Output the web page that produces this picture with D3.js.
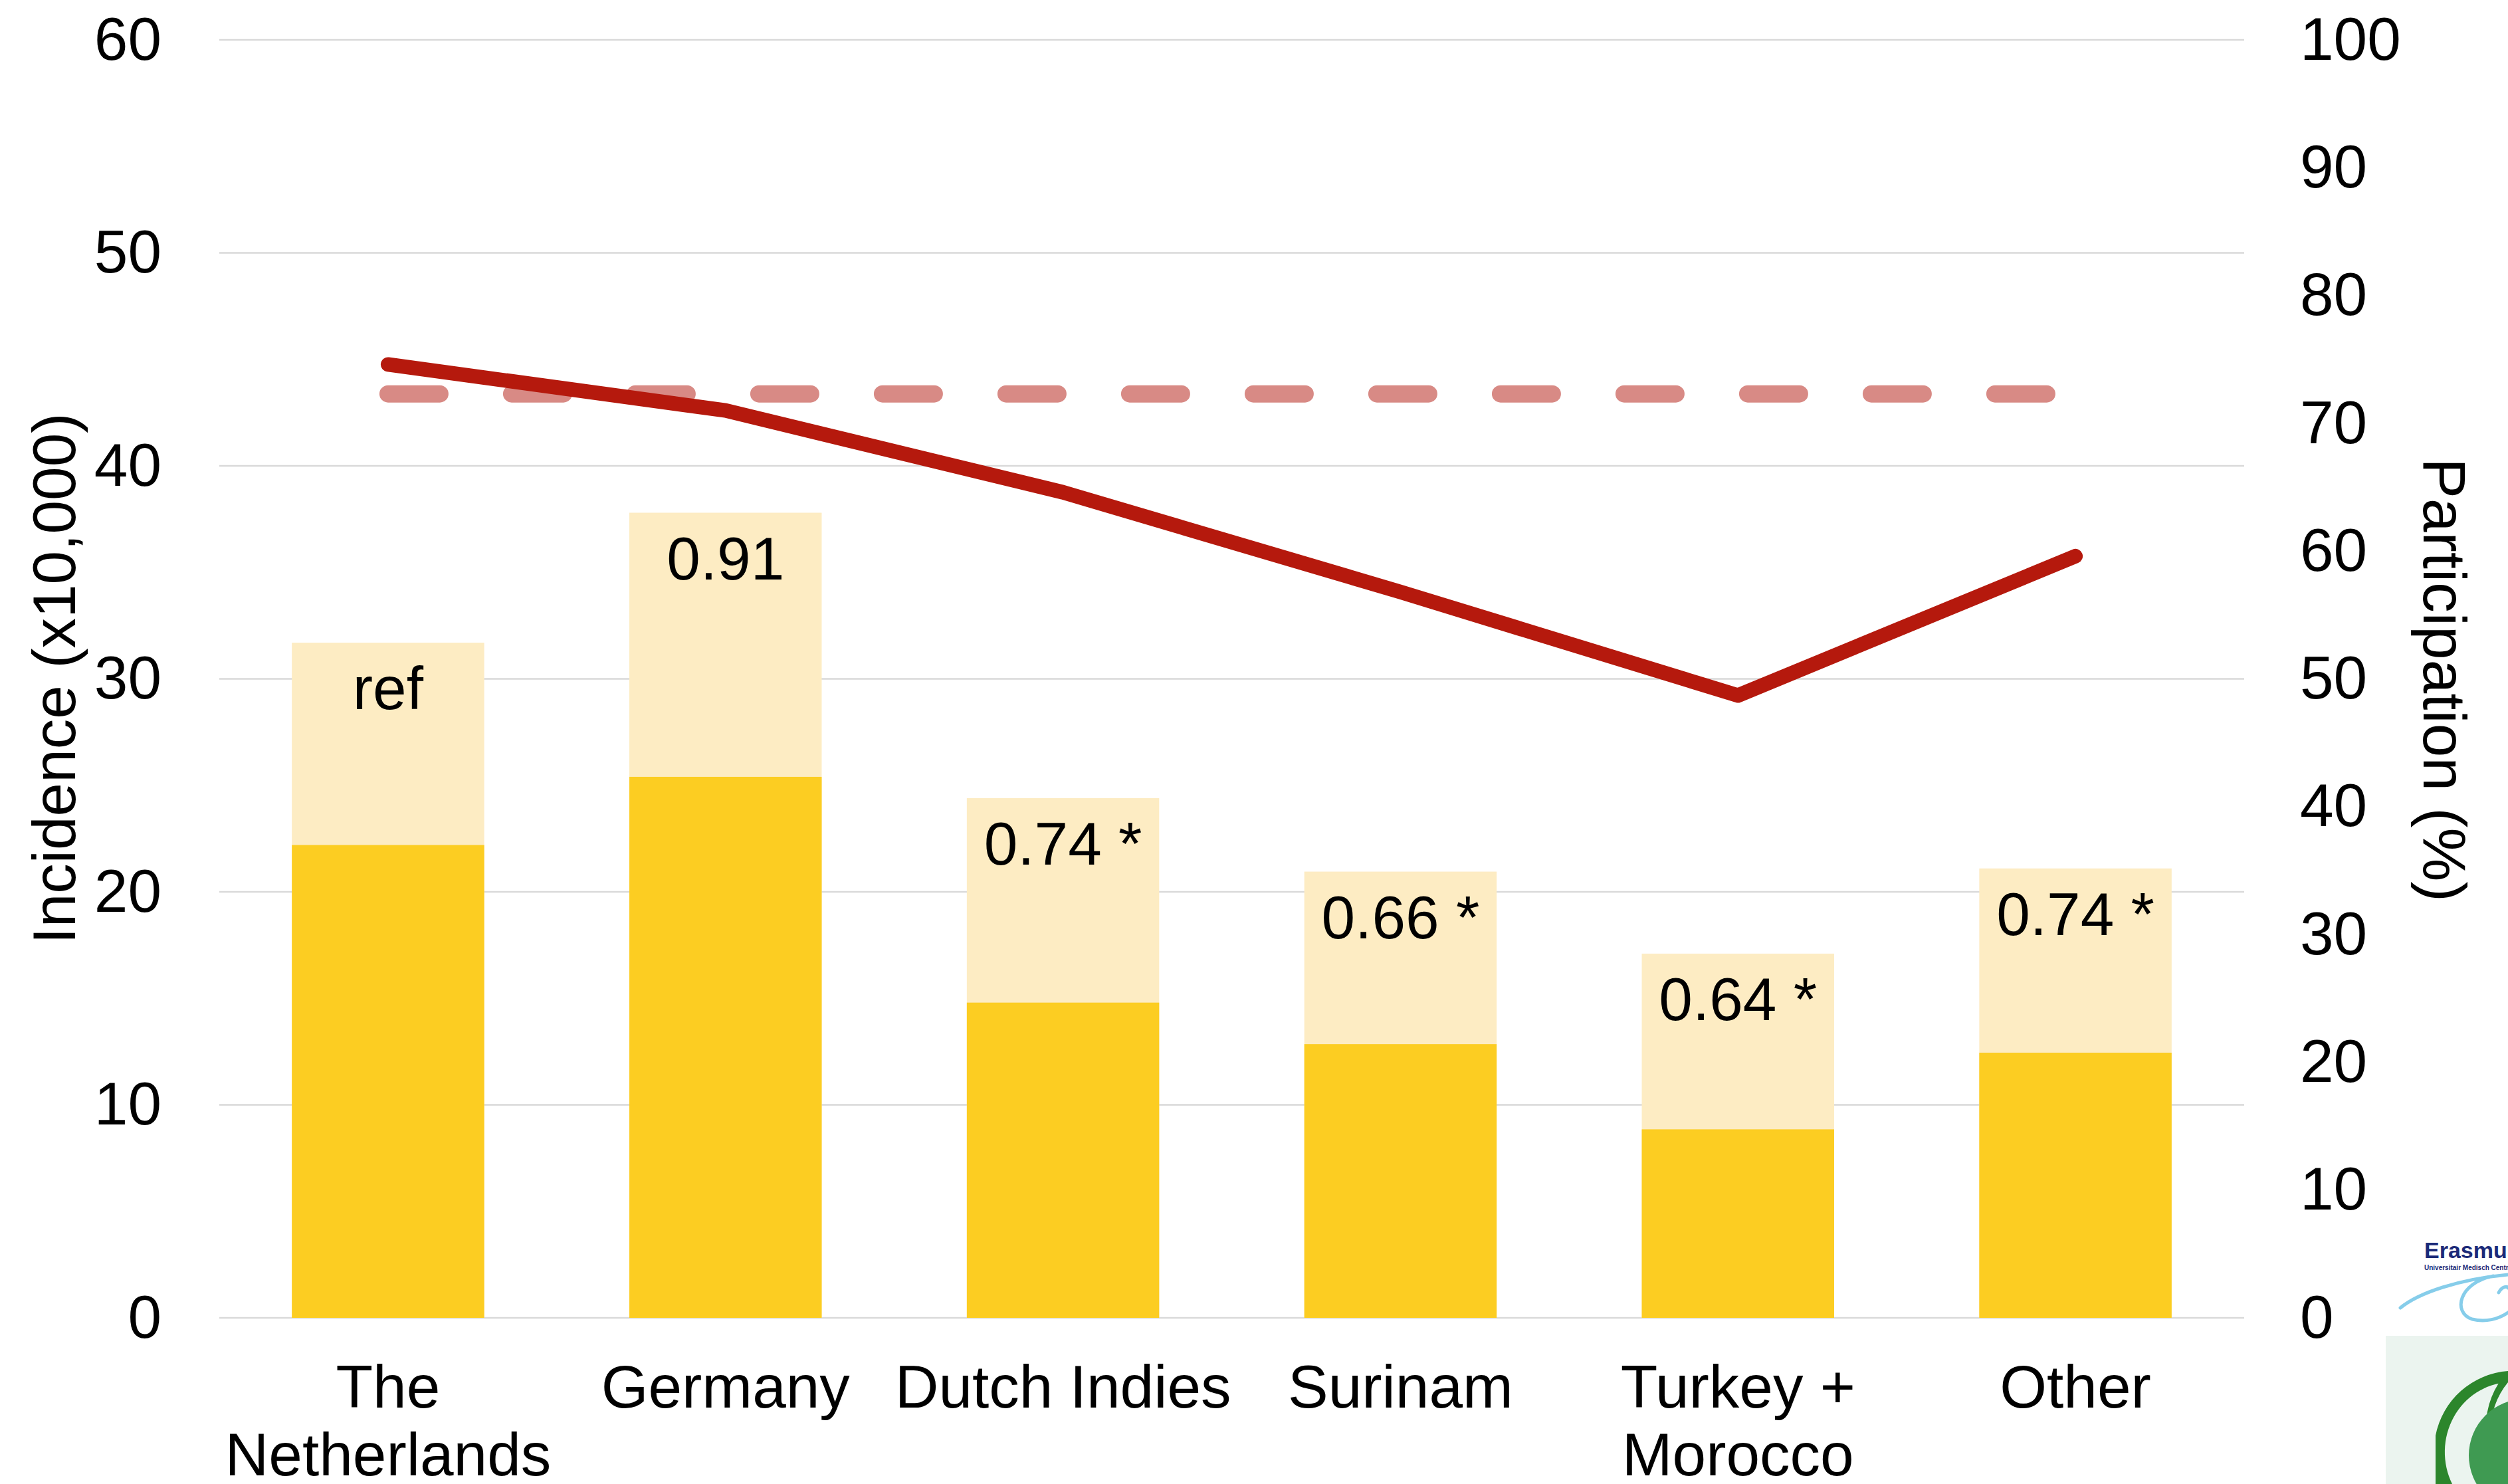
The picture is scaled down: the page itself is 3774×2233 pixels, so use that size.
<!DOCTYPE html>
<html>
<head>
<meta charset="utf-8">
<script src="https://cdn.jsdelivr.net/npm/d3@7"></script>
<style>
  body { margin: 0; background: #fff; }
  text { font-family: "Liberation Sans", Arial, sans-serif; }
</style>
</head>
<body>
<svg width="3774" height="2233"></svg>
<script>
const categories = [["The", "Netherlands"], ["Germany"], ["Dutch Indies"], ["Surinam"], ["Turkey +", "Morocco"], ["Other"]];
const incidenceTotal = [31.7, 37.8, 24.4, 20.95, 17.1, 21.1];
const incidenceBase = [22.2, 25.4, 14.8, 12.85, 8.85, 12.45];
const ratioLabels = ["ref", "0.91", "0.74 *", "0.66 *", "0.64 *", "0.74 *"];
const participation = [74.6, 71.0, 64.6, 56.8, 48.7, 59.6];
const participationMean = 72.3;
const leftTicks = [0, 10, 20, 30, 40, 50, 60];
const rightTicks = [0, 10, 20, 30, 40, 50, 60, 70, 80, 90, 100];

const svg = d3.select("svg");
const plotLeft = 330, plotRight = 3377, plotTop = 60, plotBottom = 1983;
const fontSize = 91;

const names = categories.map(function (d) { return d.join(" "); });

const x = d3.scaleBand().domain(names).range([plotLeft, plotRight])
  .paddingInner(0.43).paddingOuter(0.215);
const y = d3.scaleLinear().domain([0, 60]).range([plotBottom, plotTop]);
const y2 = d3.scaleLinear().domain([0, 100]).range([plotBottom, plotTop]);

// gridlines
svg.append("g")
  .selectAll("line")
  .data(leftTicks)
  .enter()
  .append("line")
  .attr("x1", plotLeft).attr("x2", plotRight)
  .attr("y1", function (d) { return y(d); })
  .attr("y2", function (d) { return y(d); })
  .attr("stroke", "#d9d9d9")
  .attr("stroke-width", 2.5);

// bars: light total behind, darker base in front
svg.append("g")
  .selectAll("rect")
  .data(incidenceTotal)
  .enter()
  .append("rect")
  .attr("x", function (d, i) { return x(names[i]); })
  .attr("width", x.bandwidth())
  .attr("y", function (d) { return y(d); })
  .attr("height", function (d) { return y(0) - y(d); })
  .attr("fill", "#fdecc3");

svg.append("g")
  .selectAll("rect")
  .data(incidenceBase)
  .enter()
  .append("rect")
  .attr("x", function (d, i) { return x(names[i]); })
  .attr("width", x.bandwidth())
  .attr("y", function (d) { return y(d); })
  .attr("height", function (d) { return y(0) - y(d); })
  .attr("fill", "#fccd22");

// ratio labels inside the bars
svg.append("g")
  .selectAll("text")
  .data(ratioLabels)
  .enter()
  .append("text")
  .attr("x", function (d, i) { return x(names[i]) + x.bandwidth() / 2; })
  .attr("y", function (d, i) { return y(incidenceTotal[i]) + 100; })
  .attr("text-anchor", "middle")
  .attr("font-size", fontSize)
  .text(function (d) { return d; });

// mean participation, dashed
const cx = function (i) { return x(names[i]) + x.bandwidth() / 2; };
svg.append("line")
  .attr("x1", cx(0)).attr("x2", cx(names.length - 1))
  .attr("y1", y2(participationMean)).attr("y2", y2(participationMean))
  .attr("stroke", "#d88a85")
  .attr("stroke-width", 26)
  .attr("stroke-linecap", "round")
  .attr("stroke-dasharray", "78 108");

// participation line
const line = d3.line()
  .x(function (d, i) { return cx(i); })
  .y(function (d) { return y2(d); });

svg.append("path")
  .datum(participation)
  .attr("d", line)
  .attr("fill", "none")
  .attr("stroke", "#b5190d")
  .attr("stroke-width", 22)
  .attr("stroke-linecap", "round")
  .attr("stroke-linejoin", "round");

// axes
const yAxis = svg.append("g")
  .attr("transform", "translate(" + plotLeft + ",0)")
  .call(d3.axisLeft(y).tickValues(leftTicks).tickSize(0).tickPadding(87));
const y2Axis = svg.append("g")
  .attr("transform", "translate(" + plotRight + ",0)")
  .call(d3.axisRight(y2).tickValues(rightTicks).tickSize(0).tickPadding(84));
[yAxis, y2Axis].forEach(function (a) {
  a.select(".domain").remove();
  a.selectAll("text")
    .attr("font-size", fontSize)
    .attr("font-family", "Liberation Sans, Arial, sans-serif")
    .attr("fill", "#000");
});

// category labels
const xl = svg.append("g")
  .selectAll("text")
  .data(categories)
  .enter()
  .append("text")
  .attr("text-anchor", "middle")
  .attr("font-size", fontSize)
  .attr("transform", function (d, i) { return "translate(" + cx(i) + ",2118)"; });
xl.selectAll("tspan")
  .data(function (d) { return d; })
  .enter()
  .append("tspan")
  .attr("x", 0)
  .attr("y", function (d, i) { return i * 102; })
  .text(function (d) { return d; });

// axis titles
svg.append("text")
  .attr("transform", "translate(113,1021) rotate(-90)")
  .attr("text-anchor", "middle")
  .attr("font-size", fontSize)
  .text("Incidence (x10,000)");

svg.append("text")
  .attr("transform", "translate(3647,1023) rotate(90)")
  .attr("text-anchor", "middle")
  .attr("font-size", fontSize)
  .text("Participation (%)");

// logo corner (partly cut off)
const logo = svg.append("g");
logo.append("text")
  .attr("x", 3648).attr("y", 1893)
  .attr("font-size", 34).attr("font-weight", "bold")
  .attr("fill", "#1b2a78")
  .text("Erasmus MC");
logo.append("text")
  .attr("x", 3648).attr("y", 1911)
  .attr("font-size", 10).attr("font-weight", "bold")
  .attr("fill", "#1b2a78")
  .text("Universitair Medisch Centrum Rotterdam");
logo.append("path")
  .attr("d", "M3612,1968 C3640,1945 3700,1925 3774,1918 M3752,1920 C3700,1930 3690,1975 3720,1985 C3740,1990 3760,1985 3774,1975 M3760,1945 C3765,1935 3774,1935 3774,1938")
  .attr("fill", "none")
  .attr("stroke", "#86cdea")
  .attr("stroke-width", 5)
  .attr("stroke-linecap", "round");
logo.append("rect")
  .attr("x", 3590).attr("y", 2010)
  .attr("width", 184).attr("height", 223)
  .attr("fill", "#ebf4ef");
logo.append("path")
  .attr("d", "M3774,2063 A125,125 0 0 0 3774,2233 L3774,2233 A95,110 0 0 1 3774,2080 Z")
  .attr("fill", "#2c862c");
logo.append("path")
  .attr("d", "M3665,2160 A120,120 0 0 1 3774,2063 L3774,2080 A100,105 0 0 0 3690,2233 L3665,2233 Z")
  .attr("fill", "#2c862c");
logo.append("circle")
  .attr("cx", 3800).attr("cy", 2190).attr("r", 85)
  .attr("fill", "#3f9a52");
</script>
</body>
</html>
